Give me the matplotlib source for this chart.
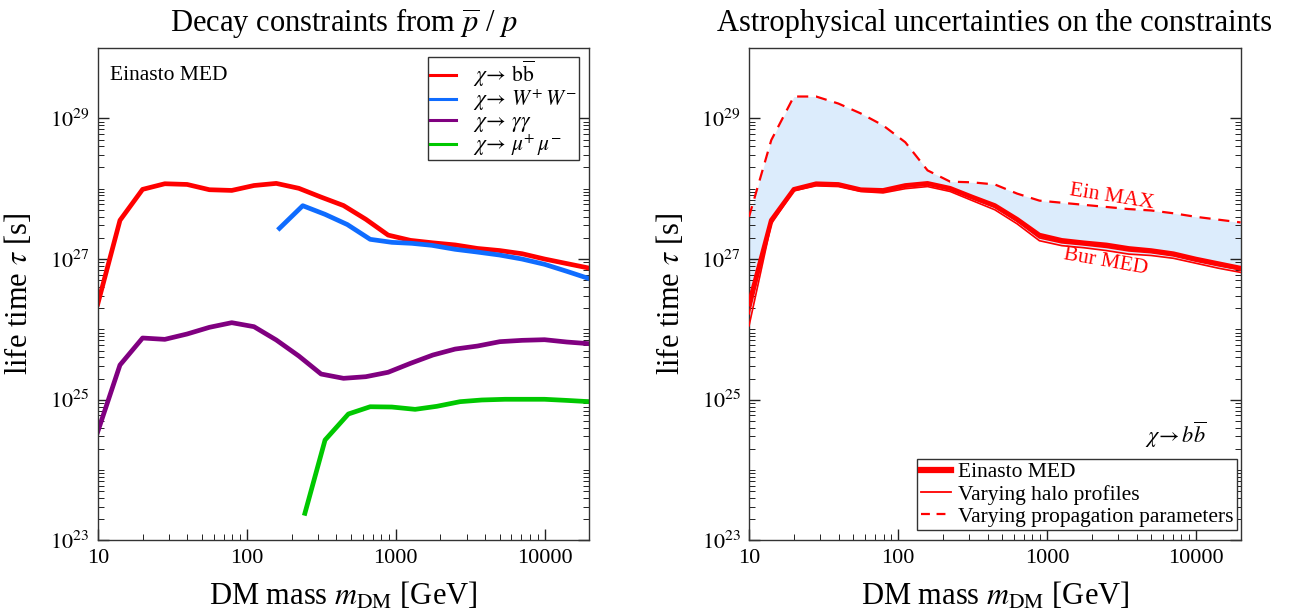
import numpy as np
import matplotlib
matplotlib.use("Agg")
import matplotlib.pyplot as plt
from matplotlib.ticker import LogLocator, FixedLocator, NullFormatter, FuncFormatter
from matplotlib.lines import Line2D

plt.rcParams['font.family'] = ['Liberation Serif', 'DejaVu Serif']
plt.rcParams['mathtext.fontset'] = 'stix'

# ---------------- data ----------------
mass_grid = [10, 14.1, 20, 28.2, 39.8, 56.2, 79.4, 112, 158, 224, 316, 447, 631,
             891, 1259, 1778, 2512, 3548, 5012, 7079, 10000, 14125, 20000]

# log10(tau / s)
log_tau_bb = [26.36, 27.55, 27.99, 28.07, 28.06, 27.985, 27.975, 28.045, 28.075, 28.005,
              27.88, 27.76, 27.565, 27.34, 27.265, 27.23, 27.20, 27.15, 27.12, 27.075,
              27.0, 26.935, 26.87]

mass_ww = [166, 238, 336, 474, 675, 944, 1285, 1750, 2512, 3510, 4980, 7050, 10000, 14125, 20000]
log_tau_ww = [27.436, 27.758, 27.635, 27.49, 27.28, 27.237, 27.223, 27.195, 27.138, 27.10,
              27.057, 27.0, 26.925, 26.825, 26.72]

log_tau_gg = [24.545, 25.493, 25.877, 25.858, 25.934, 26.029, 26.095, 26.038, 25.849, 25.621,
              25.365, 25.304, 25.327, 25.39, 25.517, 25.635, 25.72, 25.763, 25.825, 25.844,
              25.853, 25.82, 25.796]

mass_mumu = [246, 336, 482, 675, 944, 1352, 1892, 2710, 3793, 5433, 10000, 14125, 20000]
log_tau_mumu = [23.385, 24.427, 24.797, 24.9, 24.896, 24.863, 24.906, 24.972, 24.996, 25.006,
                25.006, 24.99, 24.972]

# right panel: astrophysical uncertainties (b bbar)
log_tau_ein_max = [27.60, 28.69, 29.31, 29.31, 29.21, 29.07, 28.90, 28.66, 28.26, 28.10,
                   28.09, 28.06, 27.93, 27.83, 27.80, 27.77, 27.74, 27.71, 27.69, 27.65,
                   27.60, 27.56, 27.52]
log_tau_nfw_med = [26.22, 27.53, 27.98, 28.06, 28.05, 27.975, 27.96, 28.025, 28.055, 27.985,
                   27.86, 27.735, 27.535, 27.30, 27.23, 27.20, 27.165, 27.115, 27.09, 27.045,
                   26.97, 26.905, 26.845]
log_tau_bur_med = [26.05, 27.50, 27.97, 28.04, 28.03, 27.96, 27.94, 28.00, 28.03, 27.96,
                   27.83, 27.70, 27.50, 27.26, 27.19, 27.16, 27.12, 27.07, 27.05, 27.01,
                   26.94, 26.87, 26.81]

legend_left = [r"$\chi\!\rightarrow\,\mathrm{b}\overline{\mathrm{b}}$",
               r"$\chi\!\rightarrow\,W^{+}\,W^{-}$",
               r"$\chi\!\rightarrow\,\gamma\gamma$",
               r"$\chi\!\rightarrow\,\mu^{+}\,\mu^{-}$"]
legend_right = ["Einasto MED", "Varying halo profiles", "Varying propagation parameters"]
x_ticks = [10, 100, 1000, 10000]
y_ticks = [1e23, 1e25, 1e27, 1e29]

RED = '#ff0000'
BLUE = '#0f6cff'
PURPLE = '#800080'
GREEN = '#00c800'
FILL = '#dcecfc'

def tau(v):
    return 10.0 ** np.asarray(v)

# minor tick positions on the y axis: only between 1e23 and 1e29
y_minor = [k * 10.0 ** d for d in range(23, 29) for k in range(2, 10)] + [1e24, 1e26, 1e28]

# ---------------- figure ----------------
fig = plt.figure(figsize=(12.93, 6.12), dpi=100)
axL = fig.add_axes([0.0756, 0.117, 0.3802, 0.8046])
axR = fig.add_axes([0.5793, 0.117, 0.3802, 0.8046])

TICK_FS = 16
LABEL_FS = 22

def style(ax):
    ax.set_xscale('log')
    ax.set_yscale('log')
    ax.set_xlim(10, 20000)
    ax.set_ylim(1e23, 1e30)
    ax.xaxis.set_major_locator(FixedLocator(x_ticks))
    ax.xaxis.set_major_formatter(FuncFormatter(lambda v, p: f"{int(round(v))}"))
    ax.xaxis.set_minor_locator(LogLocator(base=10, subs=np.arange(2, 10), numticks=20))
    ax.xaxis.set_minor_formatter(NullFormatter())
    ax.yaxis.set_major_locator(FixedLocator(y_ticks))
    ax.yaxis.set_major_formatter(FuncFormatter(lambda v, p: r"$10^{%d}$" % int(round(np.log10(v)))))
    ax.yaxis.set_minor_locator(FixedLocator(y_minor))
    ax.yaxis.set_minor_formatter(NullFormatter())
    ax.tick_params(which='both', direction='in', top=False, right=True, labelsize=TICK_FS,
                   color='#222222')
    ax.tick_params(which='major', length=8, width=1.0, pad=6)
    ax.tick_params(which='minor', length=4, width=0.7)
    for s in ax.spines.values():
        s.set_linewidth(1.0)
        s.set_color('#333333')
    ax.set_xlabel(r"DM mass $m_{\mathrm{DM}}$ [GeV]", fontsize=LABEL_FS, labelpad=9)
    ax.set_ylabel(r"life time $\tau$ [s]", fontsize=LABEL_FS)
    ax.yaxis.set_label_coords(-0.129, 0.5)

# ---- left panel ----
style(axL)
lw = 3.4
axL.plot(mass_grid, tau(log_tau_bb), color=RED, lw=lw, label=legend_left[0])
axL.plot(mass_ww, tau(log_tau_ww), color=BLUE, lw=lw, label=legend_left[1])
axL.plot(mass_grid, tau(log_tau_gg), color=PURPLE, lw=lw, label=legend_left[2])
axL.plot(mass_mumu, tau(log_tau_mumu), color=GREEN, lw=lw, label=legend_left[3])
legL = axL.legend(loc='upper right', bbox_to_anchor=(0.9795, 0.982), borderaxespad=0,
                  fontsize=15.5, frameon=True, fancybox=False,
                  edgecolor='#333333', framealpha=1, handlelength=1.2, handletextpad=0.8,
                  labelspacing=-0.06, borderpad=0.1)
for h in legL.get_lines():
    h.set_linewidth(2.2)
legL.get_frame().set_linewidth(1.0)
axL.text(0.025, 0.945, "Einasto MED", transform=axL.transAxes, fontsize=15.5, va='center', ha='left')
axL.set_title(r"Decay constraints from $\overline{p}$ / $p$", fontsize=LABEL_FS, pad=12)

# ---- right panel ----
style(axR)
axR.fill_between(mass_grid, tau(log_tau_bur_med), tau(log_tau_ein_max), color=FILL, lw=0, zorder=1)
axR.plot(mass_grid, tau(log_tau_ein_max), color=RED, lw=1.6, ls=(0, (5, 3.5)), zorder=3)
axR.plot(mass_grid, tau(log_tau_bur_med), color=RED, lw=1.2, zorder=3)
axR.plot(mass_grid, tau(log_tau_nfw_med), color=RED, lw=1.2, zorder=3)
axR.plot(mass_grid, tau(log_tau_bb), color=RED, lw=3.4, zorder=4)
handles = [Line2D([], [], color=RED, lw=4.5),
           Line2D([], [], color=RED, lw=1.3),
           Line2D([], [], color=RED, lw=1.6, ls=(0, (4, 3)))]
legR = axR.legend(handles, legend_right, loc='lower right', bbox_to_anchor=(0.9925, 0.021),
                  borderaxespad=0, fontsize=15.5, frameon=True,
                  fancybox=False, edgecolor='#333333', framealpha=1, handlelength=1.4,
                  handletextpad=0.35, labelspacing=0.1, borderpad=0.15)
legR.get_frame().set_linewidth(1.0)
axR.text(0.929, 0.214, r"$\chi\!\rightarrow b\overline{b}$", transform=axR.transAxes,
         fontsize=16, ha='right', va='center')
axR.text(2735, 10 ** 27.88, "Ein MAX", color=RED, fontsize=15.5, rotation=-9,
         ha='center', va='center', rotation_mode='anchor')
axR.text(2496, 10 ** 26.96, "Bur MED", color=RED, fontsize=15.5, rotation=-10,
         ha='center', va='center', rotation_mode='anchor')
axR.set_title("Astrophysical uncertainties on the constraints", fontsize=LABEL_FS, pad=12)

fig.savefig("out.png", dpi=100)
